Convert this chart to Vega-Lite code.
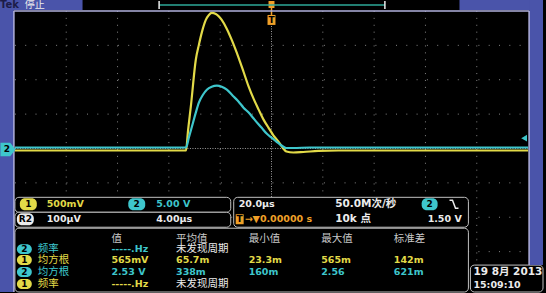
{
  "$schema": "https://vega.github.io/schema/vega-lite/v6.json",
  "width": 546,
  "height": 293,
  "autosize": {"type": "fit", "contains": "padding"},
  "padding": 0,
  "background": "#000000",
  "config": {"view": {"stroke": null}, "axis": {"disable": true}, "legend": {"disable": true}},
  "datasets": {
    "ch1": [
      {"t": -100, "v": -0.029}, {"t": -33.3, "v": -0.029}, {"t": -32.6, "v": 0.232}, {"t": -31.4, "v": 0.623},
      {"t": -29.5, "v": 1.29}, {"t": -28.3, "v": 1.507}, {"t": -27.1, "v": 1.696}, {"t": -25.6, "v": 1.87},
      {"t": -24.4, "v": 1.942}, {"t": -23.3, "v": 1.971}, {"t": -21.7, "v": 1.957}, {"t": -19.4, "v": 1.87},
      {"t": -17.4, "v": 1.739}, {"t": -15.5, "v": 1.58}, {"t": -12.8, "v": 1.319}, {"t": -10.9, "v": 1.116},
      {"t": -8.9, "v": 0.899}, {"t": -7.0, "v": 0.725}, {"t": -5.0, "v": 0.565}, {"t": -3.1, "v": 0.42},
      {"t": -1.2, "v": 0.304}, {"t": 0.8, "v": 0.188}, {"t": 2.7, "v": 0.101}, {"t": 4.3, "v": 0.014},
      {"t": 5.8, "v": -0.043}, {"t": 8.5, "v": -0.058}, {"t": 12.4, "v": -0.051}, {"t": 18.2, "v": -0.036},
      {"t": 26, "v": -0.029}, {"t": 100, "v": -0.029}
    ],
    "ch2": [
      {"t": -100, "v": 0.145}, {"t": -33.3, "v": 0.145}, {"t": -32.2, "v": 1.59}, {"t": -31.0, "v": 3.19},
      {"t": -29.5, "v": 5.22}, {"t": -28.3, "v": 6.67}, {"t": -26.7, "v": 7.82}, {"t": -25.2, "v": 8.55},
      {"t": -23.3, "v": 8.98}, {"t": -21.3, "v": 9.13}, {"t": -19.4, "v": 8.98}, {"t": -17.4, "v": 8.55},
      {"t": -15.1, "v": 7.68}, {"t": -12.8, "v": 6.81}, {"t": -10.9, "v": 5.94}, {"t": -8.9, "v": 5.22},
      {"t": -6.6, "v": 4.2}, {"t": -3.9, "v": 3.04}, {"t": -1.9, "v": 2.17}, {"t": 0, "v": 1.59},
      {"t": 1.9, "v": 1.01}, {"t": 3.9, "v": 0.43}, {"t": 5.8, "v": 0.07}, {"t": 8.5, "v": 0.07},
      {"t": 15, "v": 0.145}, {"t": 100, "v": 0.145}
    ],
    "panels": [
      {"t1": -100.0, "t2": -15.89, "d1": -1.42, "d2": -1.855},
      {"t1": -100.0, "t2": -15.89, "d1": -1.855, "d2": -2.29},
      {"t1": -14.73, "t2": 76.74, "d1": -1.42, "d2": -2.29},
      {"t1": -100.0, "t2": 76.74, "d1": -2.319, "d2": -4.174},
      {"t1": 77.52, "t2": 105.81, "d1": -3.391, "d2": -4.174}
    ],
    "bars": [
      {"t1": -105.81, "t2": -100.39, "d1": -4.174, "d2": 4.319, "c": "blue"},
      {"t1": -105.81, "t2": -73.64, "d1": 4.029, "d2": 4.319, "c": "blue"},
      {"t1": 73.26, "t2": 105.81, "d1": 4.029, "d2": 4.319, "c": "blue"},
      {"t1": 100.39, "t2": 105.81, "d1": -3.391, "d2": 4.319, "c": "blue"},
      {"t1": -1.55, "t2": 1.55, "d1": 3.594, "d2": 3.884, "c": "orange"},
      {"t1": -1.16, "t2": 1.16, "d1": 4.087, "d2": 4.29, "c": "orange"},
      {"t1": -13.95, "t2": -10.85, "d1": -1.913, "d2": -2.203, "c": "orange"}
    ],
    "lines": [
      {"t1": -43.8, "t2": 44.19, "d1": 4.174, "d2": 4.174, "c": "teal"},
      {"t1": -43.8, "t2": -43.8, "d1": 4.29, "d2": 4.058, "c": "white"},
      {"t1": 44.19, "t2": 44.19, "d1": 4.29, "d2": 4.058, "c": "white"},
      {"t1": 0, "t2": 0, "d1": 4.087, "d2": 3.884, "c": "orange"},
      {"t1": -100.39, "t2": 100.39, "d1": 4.0, "d2": 4.0, "c": "lav"},
      {"t1": -100.39, "t2": -100.39, "d1": 4.0, "d2": -4.174, "c": "lav"},
      {"t1": 100.39, "t2": 100.39, "d1": 4.0, "d2": -3.391, "c": "lav"}
    ],
    "badges": [
      {"t1": -98.06, "t2": -91.47, "d1": -1.449, "d2": -1.797, "c": "ch1"},
      {"t1": -55.81, "t2": -49.22, "d1": -1.449, "d2": -1.797, "c": "ch2"},
      {"t1": -99.22, "t2": -92.64, "d1": -1.884, "d2": -2.232, "c": "white"},
      {"t1": 58.53, "t2": 64.73, "d1": -1.449, "d2": -1.797, "c": "ch2"},
      {"t1": -99.22, "t2": -93.41, "d1": -2.783, "d2": -3.072, "c": "ch2"},
      {"t1": -99.22, "t2": -93.41, "d1": -3.101, "d2": -3.391, "c": "ch1"},
      {"t1": -99.22, "t2": -93.41, "d1": -3.449, "d2": -3.739, "c": "ch2"},
      {"t1": -99.22, "t2": -93.41, "d1": -3.797, "d2": -4.087, "c": "ch1"}
    ],
    "edge": [
      {"t": 69.38, "d": -1.507, "o": 1}, {"t": 70.54, "d": -1.507, "o": 2},
      {"t": 71.71, "d": -1.739, "o": 3}, {"t": 72.87, "d": -1.739, "o": 4}
    ],
    "txtL": [
      {"s": "500mV", "t": -87.6, "d": -1.623, "c": "ch1"},
      {"s": "5.00 V", "t": -44.96, "d": -1.623, "c": "ch2"},
      {"s": "100µV", "t": -87.6, "d": -2.058, "c": "white"},
      {"s": "4.00µs", "t": -44.96, "d": -2.058, "c": "white"},
      {"s": "20.0µs", "t": -12.79, "d": -1.623, "c": "white"},
      {"s": "→▼0.00000 s", "t": -10.47, "d": -2.058, "c": "orange"},
      {"s": "1.50 V", "t": 60.85, "d": -2.058, "c": "white"},
      {"s": "-----.Hz", "t": -62.4, "d": -2.928, "c": "ch2"},
      {"s": "565mV", "t": -62.4, "d": -3.246, "c": "ch1"},
      {"s": "65.7m", "t": -37.21, "d": -3.246, "c": "ch1"},
      {"s": "23.3m", "t": -8.91, "d": -3.246, "c": "ch1"},
      {"s": "565m", "t": 19.38, "d": -3.246, "c": "ch1"},
      {"s": "142m", "t": 47.67, "d": -3.246, "c": "ch1"},
      {"s": "2.53 V", "t": -62.4, "d": -3.594, "c": "ch2"},
      {"s": "338m", "t": -37.21, "d": -3.594, "c": "ch2"},
      {"s": "160m", "t": -8.91, "d": -3.594, "c": "ch2"},
      {"s": "2.56", "t": 19.38, "d": -3.594, "c": "ch2"},
      {"s": "621m", "t": 47.67, "d": -3.594, "c": "ch2"},
      {"s": "-----.Hz", "t": -62.4, "d": -3.942, "c": "ch1"},
      {"s": "15:09:10", "t": 78.68, "d": -3.971, "c": "white"}
    ],
    "txtM": [
      {"s": "50.0M次/秒", "t": 24.81, "d": -1.623, "c": "white"},
      {"s": "10k 点", "t": 24.81, "d": -2.058, "c": "white"},
      {"s": "19 8月  2013", "t": 78.68, "d": -3.594, "c": "white"}
    ],
    "txtC": [
      {"s": "值", "t": -62.4, "d": -2.638, "c": "hdr"},
      {"s": "平均值", "t": -37.21, "d": -2.638, "c": "hdr"},
      {"s": "最小值", "t": -8.91, "d": -2.638, "c": "hdr"},
      {"s": "最大值", "t": 19.38, "d": -2.638, "c": "hdr"},
      {"s": "标准差", "t": 47.67, "d": -2.638, "c": "hdr"},
      {"s": "频率", "t": -91.09, "d": -2.928, "c": "ch2"},
      {"s": "未发现周期", "t": -37.21, "d": -2.928, "c": "white"},
      {"s": "均方根", "t": -91.09, "d": -3.246, "c": "ch1"},
      {"s": "均方根", "t": -91.09, "d": -3.594, "c": "ch2"},
      {"s": "频率", "t": -91.09, "d": -3.942, "c": "ch1"},
      {"s": "未发现周期", "t": -37.21, "d": -3.942, "c": "white"}
    ],
    "txtB": [
      {"s": "1", "t": -94.77, "d": -1.623},
      {"s": "2", "t": -52.52, "d": -1.623},
      {"s": "R2", "t": -95.93, "d": -2.058},
      {"s": "2", "t": 61.63, "d": -1.623},
      {"s": "T", "t": -12.4, "d": -2.058},
      {"s": "T", "t": 0, "d": 3.739},
      {"s": "2", "t": -96.32, "d": -2.928},
      {"s": "1", "t": -96.32, "d": -3.246},
      {"s": "2", "t": -96.32, "d": -3.594},
      {"s": "1", "t": -96.32, "d": -3.942},
      {"s": "2", "t": -103.1, "d": -0.029}
    ]
  },
  "layer": [
    {
      "layer": [
        {
          "data": {"values": [{"t": -80}, {"t": -60}, {"t": -40}, {"t": -20}, {"t": 20}, {"t": 40}, {"t": 60}, {"t": 80}]},
          "mark": {"type": "rule", "color": "#858585", "strokeWidth": 1, "strokeDash": [1, 5.9]},
          "encoding": {
            "x": {"field": "t", "type": "quantitative", "scale": {"domain": [-105.81, 105.81], "nice": false, "zero": false}},
            "y": {"datum": 4.0, "type": "quantitative", "scale": {"domain": [-4.174, 4.319], "nice": false, "zero": false}},
            "y2": {"datum": -4.174}
          }
        },
        {
          "data": {"values": [{"d": 3}, {"d": 2}, {"d": 1}, {"d": -1}, {"d": -2}, {"d": -3}, {"d": -4}]},
          "mark": {"type": "rule", "color": "#858585", "strokeWidth": 1, "strokeDash": [1, 9.3]},
          "encoding": {
            "y": {"field": "d", "type": "quantitative", "scale": {"domain": [-4.174, 4.319], "nice": false, "zero": false}},
            "x": {"datum": -100, "type": "quantitative", "scale": {"domain": [-105.81, 105.81], "nice": false, "zero": false}},
            "x2": {"datum": 100}
          }
        },
        {
          "data": {"values": [{"t": 0}]},
          "mark": {"type": "rule", "color": "#a0a0a0", "strokeWidth": 1, "strokeDash": [1, 1.5]},
          "encoding": {
            "x": {"field": "t", "type": "quantitative", "scale": {"domain": [-105.81, 105.81], "nice": false, "zero": false}},
            "y": {"datum": 4.0, "type": "quantitative", "scale": {"domain": [-4.174, 4.319], "nice": false, "zero": false}},
            "y2": {"datum": -4.174}
          }
        },
        {
          "data": {"values": [{"d": 0}]},
          "mark": {"type": "rule", "color": "#a0a0a0", "strokeWidth": 1, "strokeDash": [1, 1.5]},
          "encoding": {
            "y": {"field": "d", "type": "quantitative", "scale": {"domain": [-4.174, 4.319], "nice": false, "zero": false}},
            "x": {"datum": -100, "type": "quantitative", "scale": {"domain": [-105.81, 105.81], "nice": false, "zero": false}},
            "x2": {"datum": 100}
          }
        }
      ]
    },
    {
      "data": {"name": "ch1"},
      "mark": {"type": "line", "color": "#e2da48", "strokeWidth": 2.2, "interpolate": "monotone"},
      "encoding": {
        "x": {"field": "t", "type": "quantitative", "scale": {"domain": [-105.81, 105.81], "nice": false, "zero": false}},
        "y": {"field": "v", "type": "quantitative", "scale": {"domain": [-2.087, 2.1595], "nice": false, "zero": false}}
      }
    },
    {
      "data": {"name": "ch2"},
      "mark": {"type": "line", "color": "#3ec6cc", "strokeWidth": 2.2, "interpolate": "monotone"},
      "encoding": {
        "x": {"field": "t", "type": "quantitative", "scale": {"domain": [-105.81, 105.81], "nice": false, "zero": false}},
        "y": {"field": "v", "type": "quantitative", "scale": {"domain": [-20.87, 21.595], "nice": false, "zero": false}}
      }
    },
    {
      "layer": [
        {
          "data": {"name": "panels"},
          "mark": {"type": "rect", "fill": "#000000", "stroke": "#c0c0c0", "strokeWidth": 1, "cornerRadius": 4},
          "encoding": {
            "x": {"field": "t1", "type": "quantitative", "scale": {"domain": [-105.81, 105.81], "nice": false, "zero": false}},
            "x2": {"field": "t2"},
            "y": {"field": "d1", "type": "quantitative", "scale": {"domain": [-4.174, 4.319], "nice": false, "zero": false}},
            "y2": {"field": "d2"}
          }
        },
        {
          "data": {"name": "bars"},
          "mark": {"type": "rect"},
          "encoding": {
            "x": {"field": "t1", "type": "quantitative", "scale": {"domain": [-105.81, 105.81], "nice": false, "zero": false}},
            "x2": {"field": "t2"},
            "y": {"field": "d1", "type": "quantitative", "scale": {"domain": [-4.174, 4.319], "nice": false, "zero": false}},
            "y2": {"field": "d2"},
            "color": {"field": "c", "type": "nominal", "legend": null, "scale": {"domain": ["ch1", "ch2", "white", "hdr", "orange", "navy", "black", "blue", "teal", "lav"], "range": ["#e2da48", "#3ec6cc", "#ececec", "#c8c8c8", "#f0a028", "#1c1c48", "#000000", "#4a54aa", "#2ea898", "#b0b0dc"]}}
          }
        },
        {
          "data": {"name": "lines"},
          "mark": {"type": "rule", "strokeWidth": 1.5},
          "encoding": {
            "x": {"field": "t1", "type": "quantitative", "scale": {"domain": [-105.81, 105.81], "nice": false, "zero": false}},
            "x2": {"field": "t2"},
            "y": {"field": "d1", "type": "quantitative", "scale": {"domain": [-4.174, 4.319], "nice": false, "zero": false}},
            "y2": {"field": "d2"},
            "color": {"field": "c", "type": "nominal", "legend": null, "scale": {"domain": ["ch1", "ch2", "white", "hdr", "orange", "navy", "black", "blue", "teal", "lav"], "range": ["#e2da48", "#3ec6cc", "#ececec", "#c8c8c8", "#f0a028", "#1c1c48", "#000000", "#4a54aa", "#2ea898", "#b0b0dc"]}}
          }
        },
        {
          "data": {"name": "badges"},
          "mark": {"type": "rect", "cornerRadius": 5},
          "encoding": {
            "x": {"field": "t1", "type": "quantitative", "scale": {"domain": [-105.81, 105.81], "nice": false, "zero": false}},
            "x2": {"field": "t2"},
            "y": {"field": "d1", "type": "quantitative", "scale": {"domain": [-4.174, 4.319], "nice": false, "zero": false}},
            "y2": {"field": "d2"},
            "color": {"field": "c", "type": "nominal", "legend": null, "scale": {"domain": ["ch1", "ch2", "white", "hdr", "orange", "navy", "black", "blue", "teal", "lav"], "range": ["#e2da48", "#3ec6cc", "#ececec", "#c8c8c8", "#f0a028", "#1c1c48", "#000000", "#4a54aa", "#2ea898", "#b0b0dc"]}}
          }
        },
        {
          "data": {"values": [{"t": -102.71, "d": -0.029}]},
          "mark": {"type": "point", "filled": true, "opacity": 1, "color": "#3ec6cc", "size": 225, "shape": "M-1,-0.9L0.3,-0.9L1,0L0.3,0.9L-1,0.9Z"},
          "encoding": {
            "x": {"field": "t", "type": "quantitative", "scale": {"domain": [-105.81, 105.81], "nice": false, "zero": false}},
            "y": {"field": "d", "type": "quantitative", "scale": {"domain": [-4.174, 4.319], "nice": false, "zero": false}}
          }
        },
        {
          "data": {"values": [{"t": 98.45, "d": 0.3}]},
          "mark": {"type": "point", "filled": true, "opacity": 1, "color": "#3ec6cc", "size": 45, "shape": "triangle-left"},
          "encoding": {
            "x": {"field": "t", "type": "quantitative", "scale": {"domain": [-105.81, 105.81], "nice": false, "zero": false}},
            "y": {"field": "d", "type": "quantitative", "scale": {"domain": [-4.174, 4.319], "nice": false, "zero": false}}
          }
        },
        {
          "data": {"name": "edge"},
          "mark": {"type": "line", "color": "#ececec", "strokeWidth": 1.5},
          "encoding": {
            "x": {"field": "t", "type": "quantitative", "scale": {"domain": [-105.81, 105.81], "nice": false, "zero": false}},
            "y": {"field": "d", "type": "quantitative", "scale": {"domain": [-4.174, 4.319], "nice": false, "zero": false}},
            "order": {"field": "o"}
          }
        },
        {
          "data": {"values": [{"s": "Tek", "t": -105.81, "d": 4.16}]},
          "mark": {"type": "text", "align": "left", "baseline": "middle", "font": "DejaVu Sans", "fontSize": 10, "fontWeight": "bold", "color": "#1c1c48"},
          "encoding": {
            "x": {"field": "t", "type": "quantitative", "scale": {"domain": [-105.81, 105.81], "nice": false, "zero": false}},
            "y": {"field": "d", "type": "quantitative", "scale": {"domain": [-4.174, 4.319], "nice": false, "zero": false}},
            "text": {"field": "s"}
          }
        },
        {
          "data": {"values": [{"s": "停止", "t": -96.12, "d": 4.16}]},
          "mark": {"type": "text", "align": "left", "baseline": "middle", "font": "Noto Sans CJK SC", "fontSize": 10, "color": "#ececec"},
          "encoding": {
            "x": {"field": "t", "type": "quantitative", "scale": {"domain": [-105.81, 105.81], "nice": false, "zero": false}},
            "y": {"field": "d", "type": "quantitative", "scale": {"domain": [-4.174, 4.319], "nice": false, "zero": false}},
            "text": {"field": "s"}
          }
        },
        {
          "data": {"name": "txtL"},
          "mark": {"type": "text", "align": "left", "baseline": "middle", "font": "DejaVu Sans", "fontSize": 9.5, "fontWeight": "bold"},
          "encoding": {
            "x": {"field": "t", "type": "quantitative", "scale": {"domain": [-105.81, 105.81], "nice": false, "zero": false}},
            "y": {"field": "d", "type": "quantitative", "scale": {"domain": [-4.174, 4.319], "nice": false, "zero": false}},
            "text": {"field": "s"},
            "color": {"field": "c", "type": "nominal", "legend": null, "scale": {"domain": ["ch1", "ch2", "white", "hdr", "orange", "navy", "black", "blue", "teal", "lav"], "range": ["#e2da48", "#3ec6cc", "#ececec", "#c8c8c8", "#f0a028", "#1c1c48", "#000000", "#4a54aa", "#2ea898", "#b0b0dc"]}}
          }
        },
        {
          "data": {"name": "txtM"},
          "mark": {"type": "text", "align": "left", "baseline": "middle", "font": "DejaVu Sans, Noto Sans CJK SC", "fontSize": 10.5, "fontWeight": "bold"},
          "encoding": {
            "x": {"field": "t", "type": "quantitative", "scale": {"domain": [-105.81, 105.81], "nice": false, "zero": false}},
            "y": {"field": "d", "type": "quantitative", "scale": {"domain": [-4.174, 4.319], "nice": false, "zero": false}},
            "text": {"field": "s"},
            "color": {"field": "c", "type": "nominal", "legend": null, "scale": {"domain": ["ch1", "ch2", "white", "hdr", "orange", "navy", "black", "blue", "teal", "lav"], "range": ["#e2da48", "#3ec6cc", "#ececec", "#c8c8c8", "#f0a028", "#1c1c48", "#000000", "#4a54aa", "#2ea898", "#b0b0dc"]}}
          }
        },
        {
          "data": {"name": "txtC"},
          "mark": {"type": "text", "align": "left", "baseline": "middle", "font": "Noto Sans CJK SC", "fontSize": 10.5},
          "encoding": {
            "x": {"field": "t", "type": "quantitative", "scale": {"domain": [-105.81, 105.81], "nice": false, "zero": false}},
            "y": {"field": "d", "type": "quantitative", "scale": {"domain": [-4.174, 4.319], "nice": false, "zero": false}},
            "text": {"field": "s"},
            "color": {"field": "c", "type": "nominal", "legend": null, "scale": {"domain": ["ch1", "ch2", "white", "hdr", "orange", "navy", "black", "blue", "teal", "lav"], "range": ["#e2da48", "#3ec6cc", "#ececec", "#c8c8c8", "#f0a028", "#1c1c48", "#000000", "#4a54aa", "#2ea898", "#b0b0dc"]}}
          }
        },
        {
          "data": {"name": "txtB"},
          "mark": {"type": "text", "align": "center", "baseline": "middle", "font": "DejaVu Sans", "fontSize": 9, "fontWeight": "bold", "color": "#000000"},
          "encoding": {
            "x": {"field": "t", "type": "quantitative", "scale": {"domain": [-105.81, 105.81], "nice": false, "zero": false}},
            "y": {"field": "d", "type": "quantitative", "scale": {"domain": [-4.174, 4.319], "nice": false, "zero": false}},
            "text": {"field": "s"}
          }
        }
      ]
    }
  ],
  "resolve": {"scale": {"y": "independent"}}
}
